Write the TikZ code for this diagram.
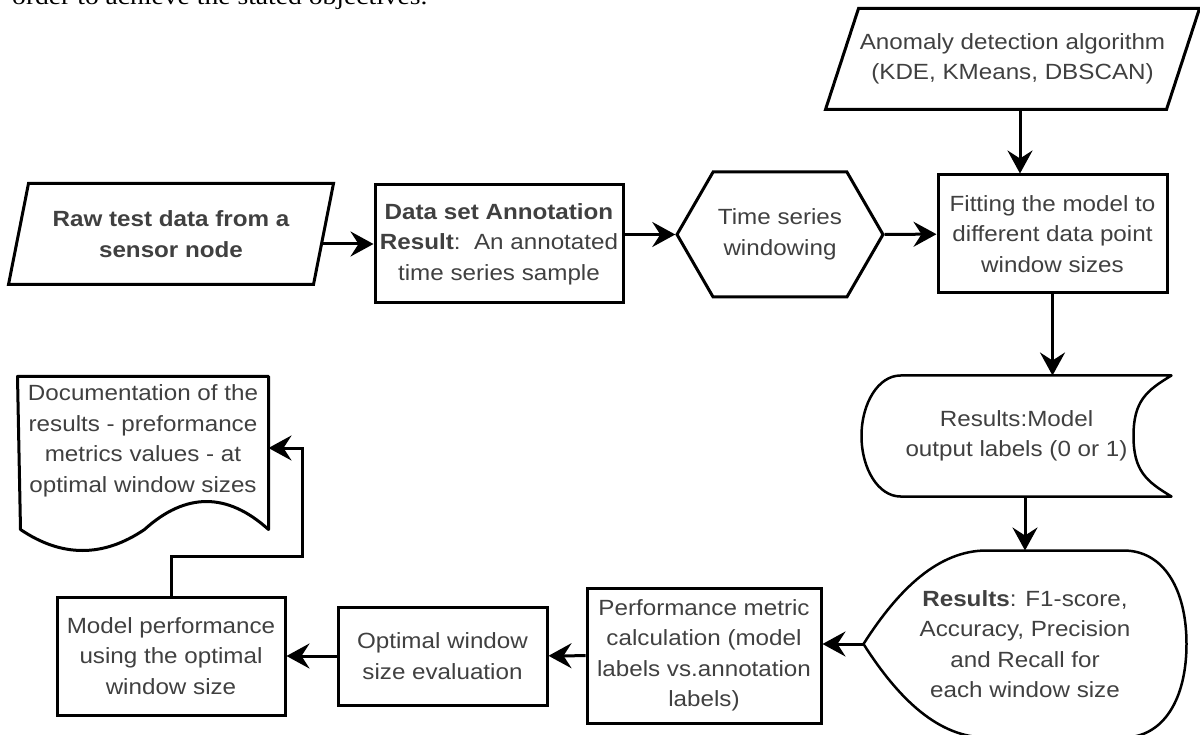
\documentclass[tikz,border=0pt]{standalone}
\usepackage{fontspec}
\setmainfont{Liberation Sans}[FakeStretch=1.1]
\newfontfamily\introfont{Liberation Serif}[FakeStretch=1.15]
\usetikzlibrary{arrows.meta,shapes.symbols}

\newcommand{\boxfont}{\fontsize{22}{30.5}\selectfont}
\tikzset{basic/.style={draw,line width=3pt,text=black!75,align=center,
                       font=\boxfont,inner sep=1pt}}
\tikzset{stepbox/.style={basic,rectangle}}
\tikzset{free/.style={basic,draw=none,rectangle}}
\tikzset{outline/.style={draw,line width=2.5pt,line join=round}}
\tikzset{arr/.style={->,line width=3pt}}

\begin{document}
\begin{tikzpicture}[x=1pt,y=-1pt,>={Stealth[length=23pt,width=25pt,inset=8pt]}]
    \useasboundingbox (0,0) rectangle (1200,735);
    \node[anchor=base west,inner sep=0pt,font=\introfont\fontsize{24}{28}\selectfont]
        (intro) at (12,5) {order to achieve the stated objectives.};
    % top row
    \node[free,minimum width=322,minimum height=98,font=\boxfont\bfseries]
        (raw) at (171,234) {Raw test data from a\\sensor node};
    \draw[outline,line width=3pt,line join=miter] ([xshift=20pt]raw.north west) -- (raw.north east)
        -- ([xshift=-20pt]raw.south east) -- (raw.south west) -- cycle;
    \node[stepbox,minimum width=248,minimum height=118] (anno) at (499,244)
        {\textbf{Data set Annotation}\\\textbf{Result}:\ \ An annotated\\time series sample};
    \node[basic,signal,signal to=east and west,signal pointer angle=120,
          minimum width=206,minimum height=125] (hex) at (780,234.5) {Time series\\windowing};
    \node[stepbox,minimum width=229,minimum height=118] (fit) at (1052.5,234)
        {Fitting the model to\\different data point\\window sizes};
    \node[free,minimum width=371,minimum height=98] (anom) at (1012.5,59)
        {Anomaly detection algorithm\\(KDE, KMeans, DBSCAN)};
    \draw[outline,line width=3pt,line join=miter] ([xshift=33pt]anom.north west) -- (anom.north east)
        -- ([xshift=-33pt]anom.south east) -- (anom.south west) -- cycle;
    % right column
    \node[free,minimum width=307,minimum height=118] (model) at (1016.5,436)
        {Results:Model\\output labels (0 or 1)};
    \draw[outline] ([xshift=39pt]model.north west) .. controls +(-22,0) and +(0,-33) .. (model.west)
        .. controls +(0,33) and +(-22,0) .. ([xshift=39pt]model.south west) -- (model.south east)
        .. controls +(-25,-15) and +(0,35) .. ([xshift=-38pt]model.east)
        .. controls +(0,-35) and +(-25,15) .. (model.north east) -- cycle;
    \node[free,minimum width=320,minimum height=184] (tear) at (1025,644)
        {\textbf{Results}: F1-score,\\Accuracy, Precision\\and Recall for\\each window size};
    \draw[outline] (tear.west) .. controls +(35,-55) and +(-48,0) .. ([xshift=123pt]tear.north west)
        -- ([xshift=-63pt]tear.north east) .. controls +(40,0) and +(0,-55) .. (tear.east)
        .. controls +(0,55) and +(40,0) .. ([xshift=-63pt]tear.south east)
        -- ([xshift=123pt]tear.south west) .. controls +(-48,0) and +(35,55) .. (tear.west) -- cycle;
    % bottom row
    \node[stepbox,minimum width=234,minimum height=135] (perf) at (704,655.5)
        {Performance metric\\calculation (model\\labels vs.annotation\\labels)};
    \node[stepbox,minimum width=209,minimum height=98] (optim) at (442.5,656)
        {Optimal window\\size evaluation};
    \node[stepbox,minimum width=228,minimum height=118] (mperf) at (171,656)
        {Model performance\\using the optimal\\window size};
    \node[free,minimum width=248,minimum height=126] (doc) at (143,441)
        {Documentation of the\\results - preformance\\metrics values - at\\optimal window sizes};
    \draw[outline,line width=3pt] (doc.north west) -- (doc.north east) -- ++(0,153)
        .. controls +(-41.3,-37.3) and +(41.3,-37.3) .. ++(-124,0)
        .. controls +(-41.3,28) and +(41.3,28) .. ++(-124,0) -- cycle;
    \coordinate[yshift=-7pt] (docin) at (doc.east);
    % connectors
    \draw[arr] ([xshift=-12pt]raw.east |- anno.west) -- (anno.west);
    \draw[arr] (anno.east |- hex.west) -- (hex.west);
    \draw[arr] ([xshift=-32.5pt]fit.north |- anom.south) -- ([xshift=-32.5pt]fit.north);
    \draw[arr] (fit.south) -- (fit.south |- model.north);
    \draw[arr] (tear.north |- model.south) -- (tear.north);
    \draw[arr] (tear.west) -- (perf.east |- tear.west);
    \foreach \a/\b in {hex/fit,perf/optim,optim/mperf}{%
          \draw[arr] (\a) -- (\b);
        }
    \draw[arr] (mperf.north) |- ++(131,-39) |- (docin);
\end{tikzpicture}
\end{document}
